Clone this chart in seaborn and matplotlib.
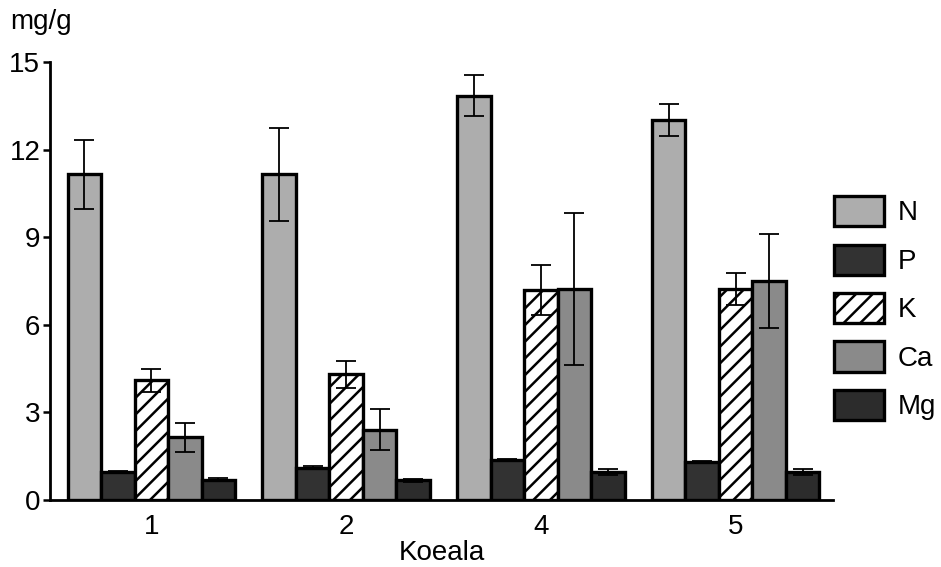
import matplotlib
matplotlib.use("Agg")
import matplotlib.pyplot as plt
from matplotlib.patches import Patch
import numpy as np
import pandas as pd
import seaborn as sns

# Nutrient concentrations (mg/g) per sample plot, with error (±) values
plots = ["1", "2", "4", "5"]
elements = ["N", "P", "K", "Ca", "Mg"]

N_mean = [11.15, 11.15, 13.85, 13.0]
P_mean = [0.97, 1.1, 1.38, 1.31]
K_mean = [4.1, 4.3, 7.2, 7.23]
Ca_mean = [2.15, 2.4, 7.22, 7.5]
Mg_mean = [0.7, 0.67, 0.95, 0.95]

N_err = [1.18, 1.6, 0.7, 0.55]
P_err = [0.03, 0.05, 0.03, 0.03]
K_err = [0.4, 0.45, 0.85, 0.55]
Ca_err = [0.5, 0.7, 2.6, 1.6]
Mg_err = [0.05, 0.04, 0.1, 0.1]

means = [N_mean, P_mean, K_mean, Ca_mean, Mg_mean]
errs = [N_err, P_err, K_err, Ca_err, Mg_err]

colors = ["#adadad", "#323232", "#ffffff", "#8a8a8a", "#2c2c2c"]
hatches = ["", "", "//", "", ""]

df = pd.DataFrame({
    "Koeala": np.repeat([plots], len(elements), axis=0).ravel(),
    "element": np.repeat(elements, len(plots)),
    "value": np.concatenate(means),
})

sns.set_style("ticks", {"axes.edgecolor": "black", "text.color": "black",
                        "xtick.color": "black", "ytick.color": "black",
                        "axes.labelcolor": "black"})
plt.rcParams["font.family"] = ["Liberation Sans", "DejaVu Sans"]
plt.rcParams["hatch.linewidth"] = 1.8
plt.rcParams["hatch.color"] = "black"

fig = plt.figure(figsize=(9.41, 5.67), dpi=100)
ax = fig.add_axes([50 / 941, 1 - 500 / 567, 783 / 941, 438 / 567])

sns.barplot(data=df, x="Koeala", y="value", hue="element", order=plots,
            hue_order=elements, palette=colors, width=0.86, gap=0,
            errorbar=None, edgecolor="black", linewidth=2.4,
            legend=False, ax=ax)

# hatching and error bars, one container per element
for cont, h, err in zip(ax.containers, hatches, errs):
    xs, ys = [], []
    for bar in cont:
        bar.set_hatch(h)
        xs.append(bar.get_x() + bar.get_width() / 2)
        ys.append(bar.get_height())
    ax.errorbar(xs, ys, yerr=err, fmt="none", ecolor="black",
                elinewidth=1.3, capsize=7.5, capthick=1.3, zorder=3)

ax.set_xlim(-0.52, 3.5)
ax.set_ylim(0, 15)
ax.set_yticks([0, 3, 6, 9, 12, 15])
ax.tick_params(axis="y", labelsize=20, length=5, width=1.8, pad=2)
ax.tick_params(axis="x", labelsize=20, length=0, pad=10)
for s in ["left", "bottom"]:
    ax.spines[s].set_linewidth(2)
sns.despine(ax=ax)

ax.set_xlabel("Koeala", fontsize=20, labelpad=0)
ax.set_ylabel("")
fig.text(10 / 941, 1 - 22 / 567, "mg/g", fontsize=20, ha="left", va="center")

handles = [Patch(facecolor=c, edgecolor="black", linewidth=2.4, hatch=h)
           for c, h in zip(colors, hatches)]
fig.legend(handles, elements, loc="upper left",
           bbox_to_anchor=(834 / 941, 1 - 196 / 567),
           bbox_transform=fig.transFigure, frameon=False, fontsize=20,
           handlelength=1.8, handleheight=1.3, labelspacing=0.65,
           handletextpad=0.5, borderpad=0, borderaxespad=0)

fig.savefig("out.png", dpi=100)
